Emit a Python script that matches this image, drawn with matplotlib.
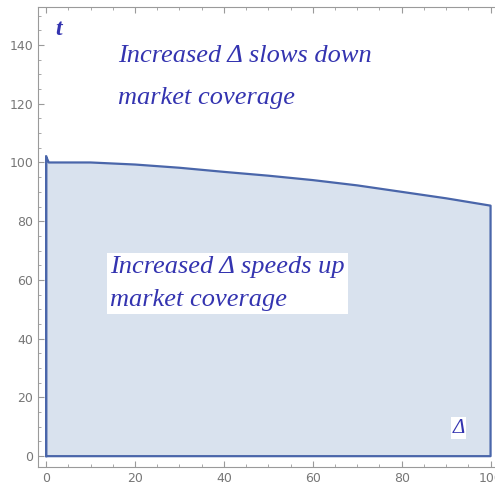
import numpy as np
import matplotlib.pyplot as plt

# boundary curve t(Delta)
delta = [0, 0.6, 10, 20, 30, 40, 50, 60, 70, 80, 90, 100]
t_vals = [102, 100, 100, 99.3, 98.2, 96.8, 95.5, 94, 92.2, 90, 87.8, 85.3]

x_ticks = [0, 20, 40, 60, 80, 100]
y_ticks = [0, 20, 40, 60, 80, 100, 120, 140]

upper_text = "Increased \u0394 slows down\nmarket coverage"
lower_text = "Increased \u0394 speeds up\nmarket coverage"

txt_col = '#3434b0'
edge_col = '#4a66aa'
fill_col = '#d9e2ee'
frame_col = '#9a9a9a'

fig = plt.figure(figsize=(4.95, 4.87), dpi=100)
ax = fig.add_axes([0.077, 0.041, 0.923, 0.945])

x = np.array(delta)
y = np.array(t_vals)
ax.fill_between(x, 0, y, facecolor=fill_col, edgecolor='none')
ax.plot(np.r_[x[0], x, x[-1], x[0], x[0]], np.r_[0, y, 0, 0, y[0]],
        color=edge_col, lw=1.6)

ax.set_xlim(-1.8, 101)
ax.set_ylim(-3.7, 153)
ax.set_xticks(x_ticks)
ax.set_yticks(y_ticks)
ax.set_xticks(np.arange(0, 101, 5), minor=True)
ax.set_yticks(np.arange(0, 151, 5), minor=True)
ax.tick_params(which='both', direction='in', color=frame_col, labelcolor='#777777',
               labelsize=9, top=True, right=False)
ax.tick_params(which='major', length=4)
ax.tick_params(which='minor', length=2)
for s in ax.spines.values():
    s.set_color(frame_col)
ax.spines['right'].set_visible(False)

serif = ['Liberation Serif', 'DejaVu Serif']
# va='baseline' on two lines anchors the last line's baseline
ax.text(16.2, 119.8, upper_text, color=txt_col, fontsize=19, style='italic',
        family=serif, linespacing=2.2, va='baseline')
ax.text(14.4, 51, lower_text, color=txt_col, fontsize=19, style='italic',
        family=serif, linespacing=1.66, va='baseline',
        bbox=dict(facecolor='white', edgecolor='none', pad=2))
ax.text(2.0, 143.5, 't', color=txt_col, fontsize=17, style='italic', weight='bold',
        family=serif)
ax.text(91.5, 8, '\u0394', color=txt_col, fontsize=15, style='italic',
        family=serif, bbox=dict(facecolor='white', edgecolor='none', pad=1))

fig.savefig('out.png', dpi=100)
